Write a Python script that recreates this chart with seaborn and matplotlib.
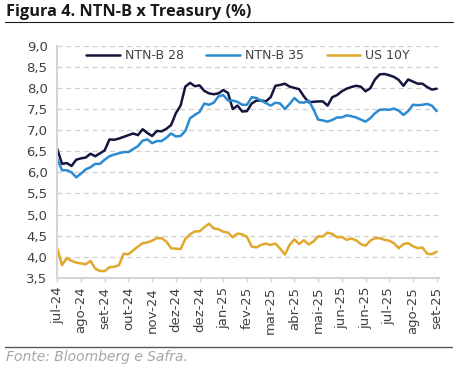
import numpy as np
import pandas as pd
import matplotlib
matplotlib.use("Agg")
import matplotlib.pyplot as plt
import seaborn as sns
from matplotlib.lines import Line2D
from matplotlib.ticker import FuncFormatter

# Series (one point every ~4 business days)
ntnb28 = [6.55, 6.20, 6.22, 6.15, 6.30, 6.33, 6.35, 6.44, 6.38, 6.45,
          6.52, 6.78, 6.77, 6.80, 6.84, 6.88, 6.92, 6.88, 7.02, 6.93,
          6.86, 6.98, 6.97, 7.03, 7.12, 7.40, 7.58, 8.03, 8.12, 8.04,
          8.06, 7.93, 7.87, 7.85, 7.87, 7.95, 7.88, 7.50, 7.58, 7.44,
          7.45, 7.63, 7.70, 7.70, 7.68, 7.78, 8.05, 8.07, 8.10, 8.03,
          8.00, 7.97, 7.80, 7.66, 7.67, 7.68, 7.68, 7.58, 7.78, 7.83,
          7.92, 7.98, 8.02, 8.05, 8.03, 7.92, 7.99, 8.20, 8.32, 8.33,
          8.30, 8.26, 8.19, 8.05, 8.20, 8.15, 8.10, 8.10, 8.02, 7.96,
          7.98]
ntnb35 = [6.31, 6.05, 6.05, 6.00, 5.88, 5.97, 6.07, 6.12, 6.20, 6.20,
          6.30, 6.38, 6.42, 6.45, 6.48, 6.48, 6.55, 6.62, 6.75, 6.78,
          6.69, 6.74, 6.74, 6.82, 6.92, 6.85, 6.86, 6.98, 7.28, 7.36,
          7.43, 7.63, 7.60, 7.65, 7.80, 7.83, 7.70, 7.70, 7.67, 7.60,
          7.60, 7.78, 7.76, 7.70, 7.64, 7.58, 7.65, 7.63, 7.50, 7.62,
          7.76, 7.66, 7.65, 7.70, 7.50, 7.25, 7.23, 7.20, 7.24, 7.30,
          7.30, 7.35, 7.33, 7.30, 7.25, 7.20, 7.28, 7.40, 7.48, 7.49,
          7.48, 7.51, 7.46, 7.36, 7.45, 7.60, 7.59, 7.60, 7.62, 7.58,
          7.45]
us10y = [4.20, 3.80, 3.97, 3.90, 3.86, 3.84, 3.82, 3.90, 3.72, 3.66,
         3.66, 3.75, 3.76, 3.80, 4.07, 4.06, 4.15, 4.24, 4.32, 4.34,
         4.38, 4.44, 4.44, 4.36, 4.20, 4.19, 4.18, 4.42, 4.53, 4.60,
         4.60, 4.70, 4.78, 4.67, 4.65, 4.59, 4.57, 4.46, 4.55, 4.53,
         4.47, 4.24, 4.22, 4.28, 4.31, 4.28, 4.31, 4.19, 4.05, 4.28,
         4.41, 4.30, 4.39, 4.29, 4.36, 4.48, 4.48, 4.57, 4.54, 4.46,
         4.47, 4.40, 4.43, 4.39, 4.30, 4.26, 4.38, 4.44, 4.44, 4.40,
         4.38, 4.32, 4.20, 4.30, 4.32, 4.25, 4.20, 4.22, 4.07, 4.06,
         4.12]
tick_labels = ["jul-24", "ago-24", "set-24", "out-24", "nov-24", "dez-24",
               "dez-24", "jan-25", "fev-25", "mar-25", "abr-25", "mai-25",
               "jun-25", "jun-25", "jul-25", "ago-25", "set-25"]
series_names = ["NTN-B 28", "NTN-B 35", "US 10Y"]
colors = ["#14163f", "#2b8ad0", "#e0a82c"]

df = pd.DataFrame({"idx": np.arange(len(ntnb28)),
                   "NTN-B 28": ntnb28, "NTN-B 35": ntnb35, "US 10Y": us10y})
long = df.melt(id_vars="idx", var_name="serie", value_name="valor")

sns.set_theme(style="white")
plt.rcParams["font.family"] = ["DejaVu Sans"]

W, H = 472, 372
fig = plt.figure(figsize=(W / 100, H / 100), dpi=100)
ax = fig.add_axes([57.3 / W, 1 - 277.8 / H, (439 - 57.3) / W, (277.8 - 45.7) / H])

sns.lineplot(data=long, x="idx", y="valor", hue="serie", hue_order=series_names,
             palette=dict(zip(series_names, colors)), linewidth=1.8, ax=ax)

ax.set_xlim(0, len(ntnb28) - 0.5)
ax.set_ylim(3.5, 9.0)
ax.set_yticks(np.arange(3.5, 9.01, 0.5))
ax.yaxis.set_major_formatter(FuncFormatter(lambda v, p: f"{v:.1f}".replace(".", ",")))
step = (len(ntnb28) - 1) / (len(tick_labels) - 1)
ax.set_xticks([i * step for i in range(len(tick_labels))])
ax.set_xticklabels(tick_labels, rotation=90)
ax.set_xlabel("")
ax.set_ylabel("")

ax.grid(axis="y", color="#cfcfcf", linestyle=(0, (4, 3)), linewidth=0.9)
ax.set_axisbelow(True)
for s in ["top", "right"]:
    ax.spines[s].set_visible(False)
for s in ["left", "bottom"]:
    ax.spines[s].set_color("#d4d4d4")
    ax.spines[s].set_linewidth(1.5)
ax.tick_params(axis="x", length=3, width=1, color="#d4d4d4", pad=3.5,
               labelsize=9.5, labelcolor="#404040", bottom=True)
ax.tick_params(axis="y", length=0, pad=7, labelsize=9.5, labelcolor="#404040")

handles, labels = ax.get_legend_handles_labels()
ax.legend(handles, labels, loc="center", bbox_to_anchor=(0.5, 1 - 10 / 232.1),
          ncol=3, frameon=False, fontsize=9, handlelength=2.7, handletextpad=0.4,
          columnspacing=1.8, labelcolor="#404040")

fig.text(6 / W, 1 - 12.5 / H, "Figura 4. NTN-B x Treasury (%)", fontsize=11.8,
         fontweight="bold", family=["Open Sans", "DejaVu Sans"], color="#1a1a1a",
         va="center", ha="left")
fig.add_artist(Line2D([5 / W, 453 / W], [1 - 22 / H] * 2, color="#1a1a1a", lw=0.8))
fig.add_artist(Line2D([5 / W, 452 / W], [1 - 346.7 / H] * 2, color="#595959", lw=1.0))
fig.text(6 / W, 1 - 357 / H, "Fonte: Bloomberg e Safra.", fontsize=10, style="italic",
         color="#a6a6a6", va="center", ha="left")

fig.savefig("out.png", dpi=100)
